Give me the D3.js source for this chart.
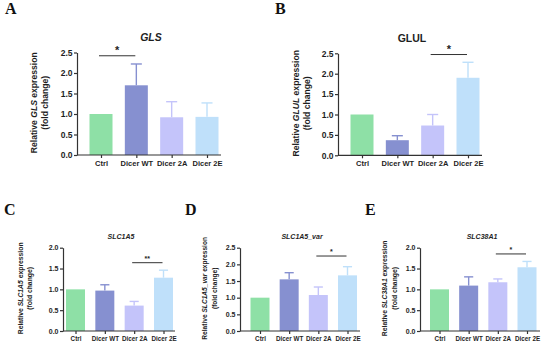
<!DOCTYPE html>
<html>
<head>
<meta charset="utf-8">
<script src="https://cdn.jsdelivr.net/npm/d3@7"></script>
<style>
  body { margin: 0; background: #fff; }
  svg text { font-family: "Liberation Sans", Arial, sans-serif; font-weight: bold; fill: #1e1e1e; }
  .panel-letter { font-family: "Liberation Serif", "Times New Roman", serif; font-size: 16px; fill: #111; }
</style>
</head>
<body>
<div id="chart"></div>
<script>
const categories = ['Ctrl', 'Dicer WT', 'Dicer 2A', 'Dicer 2E']
const colors = ['#8ee0a6', '#8690d0', '#c4c4fa', '#bfe0fa']

// mean and mean + error, per panel
const glsMean = [1.0, 1.70, 0.92, 0.93]
const glsTop = [1.0, 2.22, 1.30, 1.27]
const glulMean = [1.0, 0.37, 0.73, 1.90]
const glulTop = [1.0, 0.48, 1.00, 2.28]
const slc1a5Mean = [1.0, 0.97, 0.61, 1.28]
const slc1a5Top = [1.0, 1.11, 0.71, 1.46]
const slc1a5varMean = [1.0, 1.55, 1.08, 1.67]
const slc1a5varTop = [1.0, 1.75, 1.32, 1.93]
const slc38a1Mean = [1.0, 1.09, 1.17, 1.53]
const slc38a1Top = [1.0, 1.30, 1.25, 1.67]

const ticksA = [0, 0.5, 1.0, 1.5, 2.0, 2.5]
const ticksC = [0, 0.5, 1.0, 1.5, 2.0]

const panels = [
  { letter: 'A', gene: 'GLS', titleItalic: true, mean: glsMean, top: glsTop, ticks: ticksA,
    sig: ['Ctrl', 'Dicer WT'], star: '*', sigY: 2.42,
    box: { x0: 77, x1: 221, c0: 101, c1: 207, y0: 155, y1: 52.5, bw: 23 },
    lab: [-40, -29],
    lx: 5, ly: 14, font: { tick: 8.5, cat: 7.5, title: 10.5, ylab: 8.6, star: 11 } },
  { letter: 'B', gene: 'GLUL', titleItalic: false, mean: glulMean, top: glulTop, ticks: ticksA,
    sig: ['Dicer 2A', 'Dicer 2E'], star: '*', sigY: 2.47,
    box: { x0: 338, x1: 482, c0: 362, c1: 468, y0: 155.3, y1: 53.3, bw: 23 },
    lab: [-39, -28],
    lx: 275, ly: 14, font: { tick: 8.5, cat: 7.5, title: 10.5, ylab: 8.6, star: 11 } },
  { letter: 'C', gene: 'SLC1A5', titleItalic: true, mean: slc1a5Mean, top: slc1a5Top, ticks: ticksC,
    sig: ['Dicer 2A', 'Dicer 2E'], star: '**', sigY: 1.64,
    box: { x0: 63, x1: 175, c0: 75.5, c1: 163.5, y0: 331, y1: 247.7, bw: 19 },
    lab: [-40, -31],
    lx: 4, ly: 215, font: { tick: 7, cat: 6.3, title: 7, ylab: 6.8, star: 7 } },
  { letter: 'D', gene: 'SLC1A5_var', titleItalic: true, mean: slc1a5varMean, top: slc1a5varTop, ticks: ticksA,
    sig: ['Dicer 2A', 'Dicer 2E'], star: '*', sigY: 2.25,
    box: { x0: 240, x1: 360, c0: 260, c1: 347.5, y0: 331, y1: 247.7, bw: 19 },
    lab: [-33, -23],
    lx: 185, ly: 215, font: { tick: 7, cat: 6.3, title: 7, ylab: 6.6, star: 7 } },
  { letter: 'E', gene: 'SLC38A1', titleItalic: true, mean: slc38a1Mean, top: slc38a1Top, ticks: ticksC,
    sig: ['Dicer 2A', 'Dicer 2E'], star: '*', sigY: 1.85,
    box: { x0: 420, x1: 540, c0: 439.5, c1: 527, y0: 331, y1: 247.7, bw: 19 },
    lab: [-33, -23],
    lx: 365, ly: 215, font: { tick: 7, cat: 6.3, title: 7, ylab: 6.8, star: 7 } }
]

const svg = d3.select('#chart').append('svg')
  .attr('width', 550)
  .attr('height', 347)

panels.forEach(function (p) {
  const b = p.box
  const g = svg.append('g')
  const yMax = p.ticks[p.ticks.length - 1]

  const x = d3.scalePoint().domain(categories).range([b.c0, b.c1])
  const y = d3.scaleLinear().domain([0, yMax]).range([b.y0, b.y1])
  const idx = d => categories.indexOf(d)

  g.append('text')
    .attr('class', 'panel-letter')
    .attr('x', p.lx)
    .attr('y', p.ly)
    .text(p.letter)

  // bars
  g.selectAll('rect.bar')
    .data(categories)
    .enter()
    .append('rect')
    .attr('class', 'bar')
    .attr('x', d => x(d) - b.bw / 2)
    .attr('y', (d, i) => y(p.mean[i]))
    .attr('width', b.bw)
    .attr('height', (d, i) => y(0) - y(p.mean[i]))
    .style('fill', (d, i) => colors[i])

  // upper error bars, same colour as the bar
  const err = g.selectAll('g.err')
    .data(categories.filter((d, i) => p.top[i] > p.mean[i]))
    .enter()
    .append('g')
    .attr('class', 'err')
  err.append('line')
    .attr('x1', d => x(d)).attr('x2', d => x(d))
    .attr('y1', d => y(p.mean[idx(d)]))
    .attr('y2', d => y(p.top[idx(d)]))
    .style('stroke', d => colors[idx(d)])
    .style('stroke-width', 1.4)
  err.append('line')
    .attr('x1', d => x(d) - b.bw * 0.24).attr('x2', d => x(d) + b.bw * 0.24)
    .attr('y1', d => y(p.top[idx(d)]))
    .attr('y2', d => y(p.top[idx(d)]))
    .style('stroke', d => colors[idx(d)])
    .style('stroke-width', 1.4)

  // y axis
  const yAxis = g.append('g')
    .attr('transform', 'translate(' + b.x0 + ',0)')
    .call(d3.axisLeft(y).tickValues(p.ticks).tickFormat(d3.format('.1f')).tickSize(3).tickSizeOuter(0))
  yAxis.selectAll('text').style('font-size', p.font.tick + 'px').attr('x', -4.5)

  // x axis
  const xAxis = g.append('g')
    .attr('transform', 'translate(0,' + b.y0 + ')')
    .call(d3.axisBottom(x).tickSize(3).tickSizeOuter(0))
  xAxis.select('.domain').attr('d', 'M' + b.x0 + ',0H' + b.x1)
  xAxis.selectAll('text').style('font-size', p.font.cat + 'px').attr('y', 5.5)

  svg.selectAll('.domain, .tick line').style('stroke', '#333').style('stroke-width', 1.2)

  // title
  g.append('text')
    .attr('x', (b.x0 + b.x1) / 2 + 2)
    .attr('y', b.y1 - (b.y0 - b.y1) * 0.11)
    .attr('text-anchor', 'middle')
    .style('font-size', p.font.title + 'px')
    .style('font-style', p.titleItalic ? 'italic' : 'normal')
    .text(p.gene)

  // y label, two lines
  const midY = (b.y0 + b.y1) / 2 - 1
  const lab = g.append('text')
    .attr('transform', 'translate(' + (b.x0 + p.lab[0]) + ',' + midY + ') rotate(-90)')
    .attr('text-anchor', 'middle')
    .style('font-size', p.font.ylab + 'px')
  lab.append('tspan').text('Relative ')
  lab.append('tspan').style('font-style', 'italic').text(p.gene)
  lab.append('tspan').text(' expression')
  g.append('text')
    .attr('transform', 'translate(' + (b.x0 + p.lab[1]) + ',' + midY + ') rotate(-90)')
    .attr('text-anchor', 'middle')
    .style('font-size', p.font.ylab + 'px')
    .text('(fold change)')

  // significance bracket
  const sx0 = x(p.sig[0]) - 2
  const sx1 = x(p.sig[1]) - 1
  g.append('line')
    .attr('x1', sx0).attr('x2', sx1)
    .attr('y1', y(p.sigY)).attr('y2', y(p.sigY))
    .style('stroke', '#333').style('stroke-width', 1)
  g.append('text')
    .attr('x', (sx0 + sx1) / 2)
    .attr('y', y(p.sigY) - 2)
    .attr('text-anchor', 'middle')
    .style('font-size', p.font.star + 'px')
    .text(p.star)
})
</script>
</body>
</html>
